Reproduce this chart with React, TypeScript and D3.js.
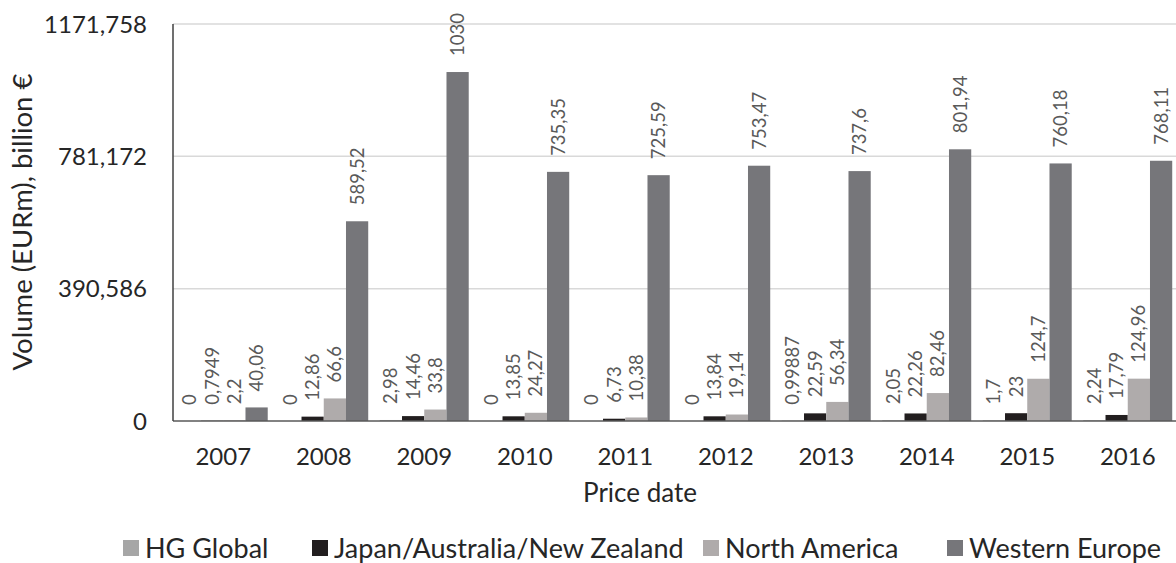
import React, { useEffect, useRef } from 'react';
import * as d3 from 'd3';

const years = ['2007', '2008', '2009', '2010', '2011', '2012', '2013', '2014', '2015', '2016'];
const seriesNames = ['HG Global', 'Japan/Australia/New Zealand', 'North America', 'Western Europe'];
const hgGlobal = [0, 0, 2.98, 0, 0, 0, 0.99887, 2.05, 1.7, 2.24];
const japanAusNz = [0.7949, 12.86, 14.46, 13.85, 6.73, 13.84, 22.59, 22.26, 23, 17.79];
const northAmerica = [2.2, 66.6, 33.8, 24.27, 10.38, 19.14, 56.34, 82.46, 124.7, 124.96];
const westernEurope = [40.06, 589.52, 1030, 735.35, 725.59, 753.47, 737.6, 801.94, 760.18, 768.11];
const yTicks = [0, 390.586, 781.172, 1171.758];
const yTickLabels = ['0', '390,586', '781,172', '1171,758'];
const colors = ['#a6a6a6', '#221e1f', '#afabab', '#76767a'];

const fmt = (v: number) => String(v).replace('.', ',');

const App: React.FC = () => {
    const ref = useRef<SVGSVGElement>(null);

    useEffect(() => {
        document.body.style.margin = '0';
        const svg = d3.select(ref.current);
        svg.selectAll('*').remove();

        const font = 'Lato, "Open Sans", sans-serif';
        const left = 173, right = 1178, top = 24, bottom = 421;
        const values = [hgGlobal, japanAusNz, northAmerica, westernEurope];

        const x = d3.scaleBand().domain(years).range([left, right]).paddingInner(0.115).paddingOuter(0.0575);
        const inner = d3.scaleBand().domain(seriesNames).range([0, x.bandwidth()]);
        const y = d3.scaleLinear().domain([0, 1171.758]).range([bottom, top]);

        // gridlines
        svg.append('g').selectAll('line').data(yTicks.slice(1)).enter().append('line')
            .attr('x1', left).attr('x2', 1176)
            .attr('y1', d => y(d)).attr('y2', d => y(d))
            .attr('stroke', '#d9d9d9').attr('stroke-width', 1.5);

        // bars + value labels
        seriesNames.forEach((name, si) => {
            const g = svg.append('g');
            g.selectAll('rect').data(values[si]).enter().append('rect')
                .attr('x', (_, i) => (x(years[i]) as number) + (inner(name) as number))
                .attr('width', inner.bandwidth())
                .attr('y', d => y(d))
                .attr('height', d => bottom - y(d))
                .attr('fill', colors[si]);
            g.selectAll('text').data(values[si]).enter().append('text')
                .attr('transform', (d, i) => {
                    const cx = (x(years[i]) as number) + (inner(name) as number) + inner.bandwidth() / 2;
                    return `translate(${cx + 6.5},${y(d) - 16}) rotate(-90)`;
                })
                .attr('font-family', font).attr('font-size', 18.5).attr('fill', '#595959')
                .text(d => fmt(d));
        });

        // axis lines
        svg.append('line').attr('x1', left).attr('x2', 1176).attr('y1', bottom).attr('y2', bottom)
            .attr('stroke', '#595959').attr('stroke-width', 1.5);
        svg.append('line').attr('x1', left).attr('x2', left).attr('y1', top).attr('y2', bottom)
            .attr('stroke', '#404040').attr('stroke-width', 1.5);

        // y tick labels
        svg.append('g').selectAll('text').data(yTicks).enter().append('text')
            .attr('x', 147).attr('y', d => y(d) + 8.5)
            .attr('text-anchor', 'end').attr('font-family', font).attr('font-size', 24).attr('fill', '#262626')
            .text((_, i) => yTickLabels[i]);

        // x tick labels
        svg.append('g').selectAll('text').data(years).enter().append('text')
            .attr('x', d => (x(d) as number) + x.bandwidth() / 2).attr('y', 465)
            .attr('text-anchor', 'middle').attr('font-family', font).attr('font-size', 24).attr('fill', '#262626')
            .text(d => d);

        // axis titles
        svg.append('text').attr('x', 640).attr('y', 502).attr('text-anchor', 'middle')
            .attr('font-family', font).attr('font-size', 26).attr('fill', '#262626').text('Price date');
        svg.append('text').attr('transform', 'translate(32,222) rotate(-90)').attr('text-anchor', 'middle')
            .attr('font-family', font).attr('font-size', 27.5).attr('fill', '#262626').text('Volume (EURm), billion €');

        // legend
        const legendX = [123, 312, 703, 947];
        const lg = svg.append('g').selectAll('g').data(seriesNames).enter().append('g')
            .attr('transform', (_, i) => `translate(${legendX[i]},548)`);
        lg.append('rect').attr('x', 0).attr('y', -8).attr('width', 16).attr('height', 16).attr('fill', (_, i) => colors[i]);
        lg.append('text').attr('x', 22).attr('y', 9.5).attr('font-family', font).attr('font-size', 27).attr('fill', '#262626')
            .text(d => d);
    }, []);

    return <svg ref={ref} width={1176} height={563} style={{ display: 'block' }}></svg>;
};

export default App;
